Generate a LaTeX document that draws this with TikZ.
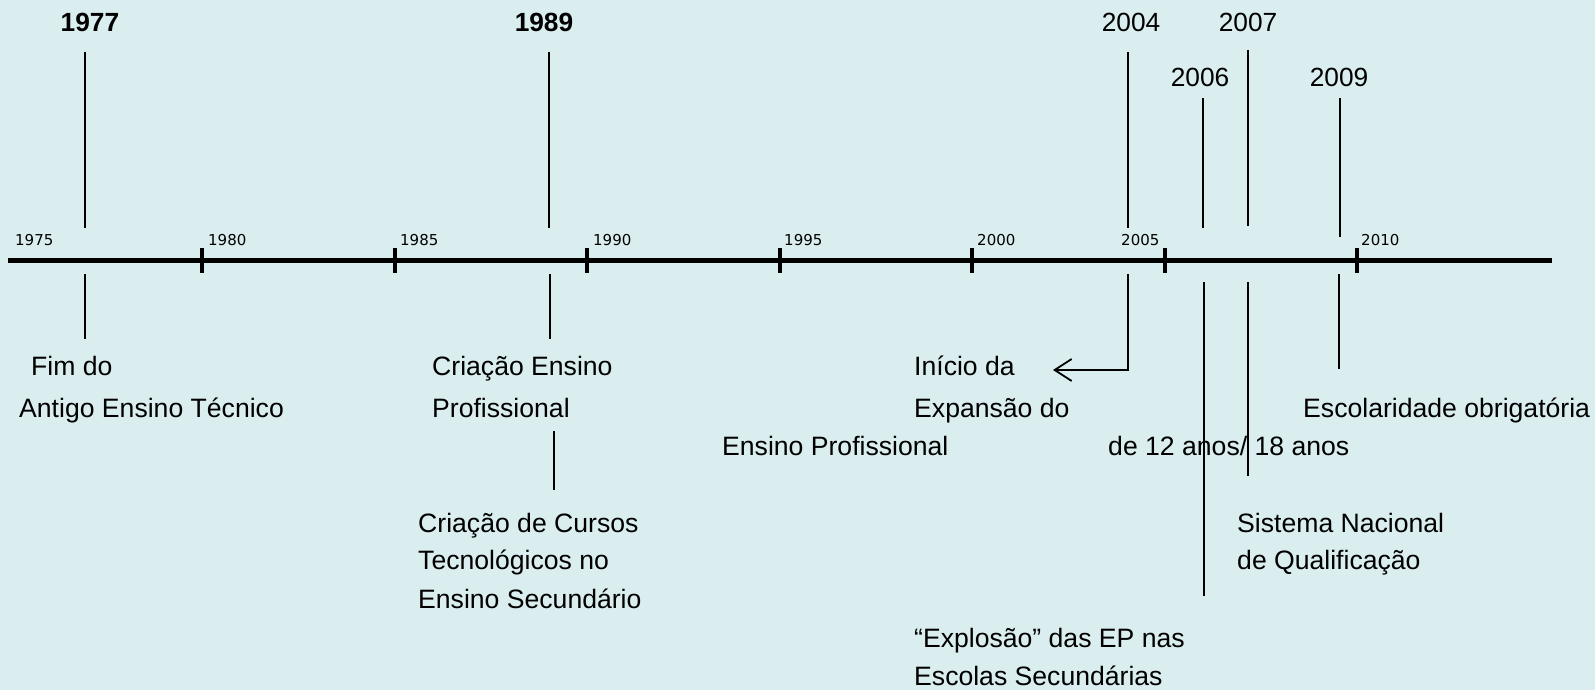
\documentclass[tikz,border=0pt]{standalone}
\usepackage{fontspec}
\setmainfont{Liberation Sans}
\newfontfamily\tickfont{DejaVu Sans}
\usetikzlibrary{arrows.meta}
\definecolor{bgcol}{HTML}{DAEEF0}
\begin{document}
\begin{tikzpicture}[x=1pt,y=-1pt,
  evline/.style={draw=black,line width=1.8pt},
  tickmark/.style={draw=black,line width=3.5pt},
  axisline/.style={draw=black,line width=5pt},
  evtext/.style={anchor=base west,inner sep=0pt,font=\fontsize{26.6}{30}\selectfont},
  toptext/.style={anchor=base,inner sep=0pt,font=\fontsize{26.3}{30}\selectfont},
  yrlabel/.style={anchor=base west,inner sep=0pt,font=\tickfont\fontsize{15}{17}\selectfont}]
\useasboundingbox (0,0) rectangle (1595,690);
\fill[bgcol] (0,0) rectangle (1595,690);

% axis
\coordinate (axL) at (8,260);
\coordinate (axR) at (1552,260);
\draw[axisline] (axL) -- (axR);

% ticks and year labels
\foreach \yr/\x in {1980/202,1985/395,1990/587,1995/780,2000/972,2005/1165,2010/1357}{
  \coordinate (t\yr a) at (\x,248);
  \coordinate (t\yr b) at (\x,273);
  \draw[tickmark] (t\yr a) -- (t\yr b);
}
\node[yrlabel] (l1975) at (15,245) {1975};
\node[yrlabel] (l1980) at (208,245) {1980};
\node[yrlabel] (l1985) at (400,245) {1985};
\node[yrlabel] (l1990) at (593,245) {1990};
\node[yrlabel] (l1995) at (784,245) {1995};
\node[yrlabel] (l2000) at (977,245) {2000};
\node[yrlabel] (l2005) at (1121,245) {2005};
\node[yrlabel] (l2010) at (1361,245) {2010};

% top labels
\node[toptext,font=\fontsize{26.3}{30}\selectfont\bfseries] (y1977) at (90,32) {1977};
\node[toptext,font=\fontsize{26.3}{30}\selectfont\bfseries] (y1989) at (544,32) {1989};
\node[toptext] (y2004) at (1131,32) {2004};
\node[toptext] (y2007) at (1248,32) {2007};
\node[toptext] (y2006) at (1200,87) {2006};
\node[toptext] (y2009) at (1339,87) {2009};

% upper event lines
\coordinate (u77a) at (85,52);   \coordinate (u77b) at (85,228);
\coordinate (u89a) at (549,52);  \coordinate (u89b) at (549,228);
\coordinate (u04a) at (1128,52); \coordinate (u04b) at (1128,228);
\coordinate (u06a) at (1203,98); \coordinate (u06b) at (1203,228);
\coordinate (u07a) at (1248,50); \coordinate (u07b) at (1248,226);
\coordinate (u09a) at (1340,98); \coordinate (u09b) at (1340,237);
\draw[evline] (u77a) -- (u77b);
\draw[evline] (u89a) -- (u89b);
\draw[evline] (u04a) -- (u04b);
\draw[evline] (u06a) -- (u06b);
\draw[evline] (u07a) -- (u07b);
\draw[evline] (u09a) -- (u09b);

% lower event lines
\coordinate (d77a) at (85,274);   \coordinate (d77b) at (85,339);
\coordinate (d89a) at (550,274);  \coordinate (d89b) at (550,339);
\coordinate (e89a) at (554,431);  \coordinate (e89b) at (554,490);
\coordinate (d04a) at (1128,274); \coordinate (d04c) at (1128,370);
\coordinate (d04t) at (1053,370);
\coordinate (d06a) at (1204,282); \coordinate (d06b) at (1204,596);
\coordinate (d07a) at (1248,282); \coordinate (d07b) at (1248,476);
\coordinate (d09a) at (1339,274); \coordinate (d09b) at (1339,369);
\draw[evline] (d77a) -- (d77b);
\draw[evline] (d89a) -- (d89b);
\draw[evline] (e89a) -- (e89b);
\draw[evline,-{Straight Barb[length=17pt,width=22pt]}] (d04a) -- (d04c) -- (d04t);
\draw[evline] (d06a) -- (d06b);
\draw[evline] (d07a) -- (d07b);
\draw[evline] (d09a) -- (d09b);

% event texts
\node[evtext] (fim1) at (31,375) {Fim do};
\node[evtext] (fim2) at (19,417) {Antigo Ensino Técnico};
\node[evtext] (cep1) at (432,375) {Criação Ensino};
\node[evtext] (cep2) at (432,417) {Profissional};
\node[evtext] (cct1) at (418,532) {Criação de Cursos};
\node[evtext] (cct2) at (418,569) {Tecnológicos no};
\node[evtext] (cct3) at (418,608) {Ensino Secundário};
\node[evtext] (ini1) at (914,375) {Início da};
\node[evtext] (ini2) at (914,417) {Expansão do};
\node[evtext] (ini3) at (722,455) {Ensino Profissional};
\node[evtext] (esc1) at (1303,417) {Escolaridade obrigatória};
\node[evtext] (esc2) at (1108,455) {de 12 anos/ 18 anos};
\node[evtext] (snq1) at (1237,532) {Sistema Nacional};
\node[evtext] (snq2) at (1237,569) {de Qualificação};
\node[evtext] (exp1) at (914,647) {“Explosão” das EP nas};
\node[evtext] (exp2) at (914,685) {Escolas Secundárias};
\end{tikzpicture}
\end{document}
